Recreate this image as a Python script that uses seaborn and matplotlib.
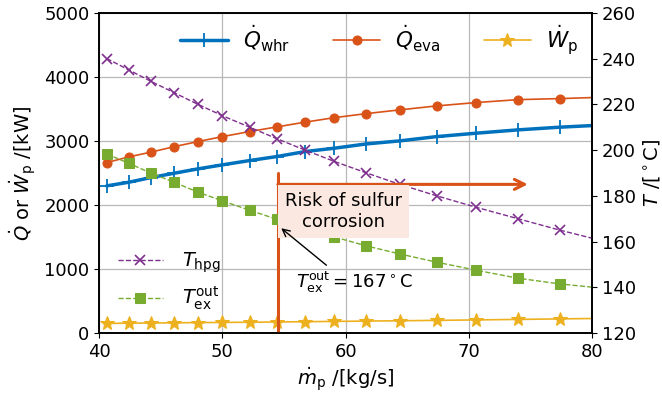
import numpy as np
import seaborn as sns
import matplotlib.pyplot as plt

# mass flow of the pump [kg/s]; last point (80) only carries the line, no marker
m_p = [40.6, 42.4, 44.2, 46.1, 48.0, 50.0, 52.2, 54.4, 56.7, 59.1, 61.7, 64.4,
       67.4, 70.6, 74.0, 77.4, 80.0]

Q_whr = [2298, 2355, 2428, 2496, 2563, 2626, 2693, 2755, 2833, 2886, 2953, 3000,
         3067, 3120, 3172, 3214, 3239]
Q_eva = [2662, 2750, 2825, 2911, 2989, 3067, 3145, 3218, 3292, 3363, 3426, 3484,
         3546, 3598, 3644, 3660, 3676]
W_p = [152, 155, 158, 161, 164, 167, 170, 174, 178, 183, 188, 193, 199, 206,
       214, 222, 228]

T_hpg = [240, 235, 230, 225, 220, 215, 210, 205, 200, 195, 190, 185, 180, 175,
         170, 165, 161.5]
T_ex_out = [198.3, 194.2, 189.9, 185.9, 181.6, 177.8, 173.7, 169.8, 165.9, 162.0,
            158.1, 154.6, 151.0, 147.5, 144.0, 141.5, 140.1]

blue, orange, yellow = '#0072BD', '#D95319', '#EDB120'
purple, green = '#7E2F8E', '#77AC30'

sns.set_style('ticks')
plt.rcParams['font.family'] = ['DejaVu Sans']
plt.rcParams['mathtext.fontset'] = 'dejavusans'
for k in ('text.color', 'axes.labelcolor', 'xtick.color', 'ytick.color'):
    plt.rcParams[k] = 'black'

fig, ax = plt.subplots(figsize=(6.62, 3.98), dpi=100)
fig.subplots_adjust(left=0.15, right=0.894, top=0.968, bottom=0.163)
ax2 = ax.twinx()

marks = list(range(16))

sns.lineplot(x=m_p, y=Q_whr, ax=ax, color=blue, lw=2.5, marker='+', ms=10,
             mew=1.3, mec=blue, markevery=marks, label=r'$\dot{Q}_{\rm whr}$')
sns.lineplot(x=m_p, y=Q_eva, ax=ax, color=orange, lw=1.2, marker='o', ms=6.5,
             mec=orange, markevery=marks, label=r'$\dot{Q}_{\rm eva}$')
sns.lineplot(x=m_p, y=W_p, ax=ax, color=yellow, lw=1.2, marker='*', ms=10,
             mec=yellow, markevery=marks, label=r'$\dot{W}_{\rm p}$')

# risk region marker, drawn in temperature coordinates
ax2.plot([54.5, 54.5], [120, 190], color=orange, lw=2.2, zorder=1)
ax2.annotate('', xy=(74.8, 185), xytext=(54.5, 185),
             arrowprops=dict(arrowstyle='->', color=orange, lw=2.2,
                             mutation_scale=18, shrinkA=0, shrinkB=0))
ax2.text(59.8, 173.2, 'Risk of sulfur\ncorrosion', fontsize=13, ha='center',
         va='center', multialignment='center',
         bbox=dict(facecolor='#FBE8E0', edgecolor='none', pad=5))

sns.lineplot(x=m_p, y=T_hpg, ax=ax2, color=purple, lw=1, linestyle='--',
             marker='x', ms=7, mew=1.2, mec=purple, markevery=marks,
             label=r'$T_{\rm hpg}$')
sns.lineplot(x=m_p, y=T_ex_out, ax=ax2, color=green, lw=1, linestyle='--',
             marker='s', ms=6.5, mec=green, markevery=marks,
             label=r'$T_{\rm ex}^{\rm out}$')

ax2.annotate(r'$T_{\rm ex}^{\rm out} = 167^\circ$C', xy=(54.6, 166.6),
             xytext=(56.0, 142.0), fontsize=13, ha='left', va='center',
             arrowprops=dict(arrowstyle='->', color='black', lw=1,
                             relpos=(0.31, 1.0)))

ax.set_xlim(40, 80)
ax.set_ylim(0, 5000)
ax2.set_ylim(120, 260)
ax.set_xticks(np.arange(40, 81, 10))
ax.set_yticks(np.arange(0, 5001, 1000))
ax2.set_yticks(np.arange(120, 261, 20))
ax.grid(True, color='#b8b8b8', lw=0.9)

ax.tick_params(labelsize=13)
ax2.tick_params(labelsize=13)
ax.set_xlabel(r'$\dot{m}_{\rm p}$ /[kg/s]', fontsize=14)
ax.set_ylabel(r'$\dot{Q}$ or $\dot{W}_{\rm p}$ /[kW]', fontsize=14)
ax2.set_ylabel(r'$T$ /[$^\circ$C]', fontsize=14)
for a in (ax, ax2):
    for s in a.spines.values():
        s.set_color('black')
        s.set_linewidth(1.2)

ax.legend(loc='upper left', bbox_to_anchor=(0.147, 0.995), borderaxespad=0,
          ncol=3, frameon=False, fontsize=15.5, handlelength=2.2,
          handletextpad=0.7, columnspacing=2.0)
ax2.legend(loc='lower left', bbox_to_anchor=(0.002, 0.01), frameon=False,
           fontsize=14, handlelength=2.3, handletextpad=1.0)

plt.savefig('out.png', dpi=100)
